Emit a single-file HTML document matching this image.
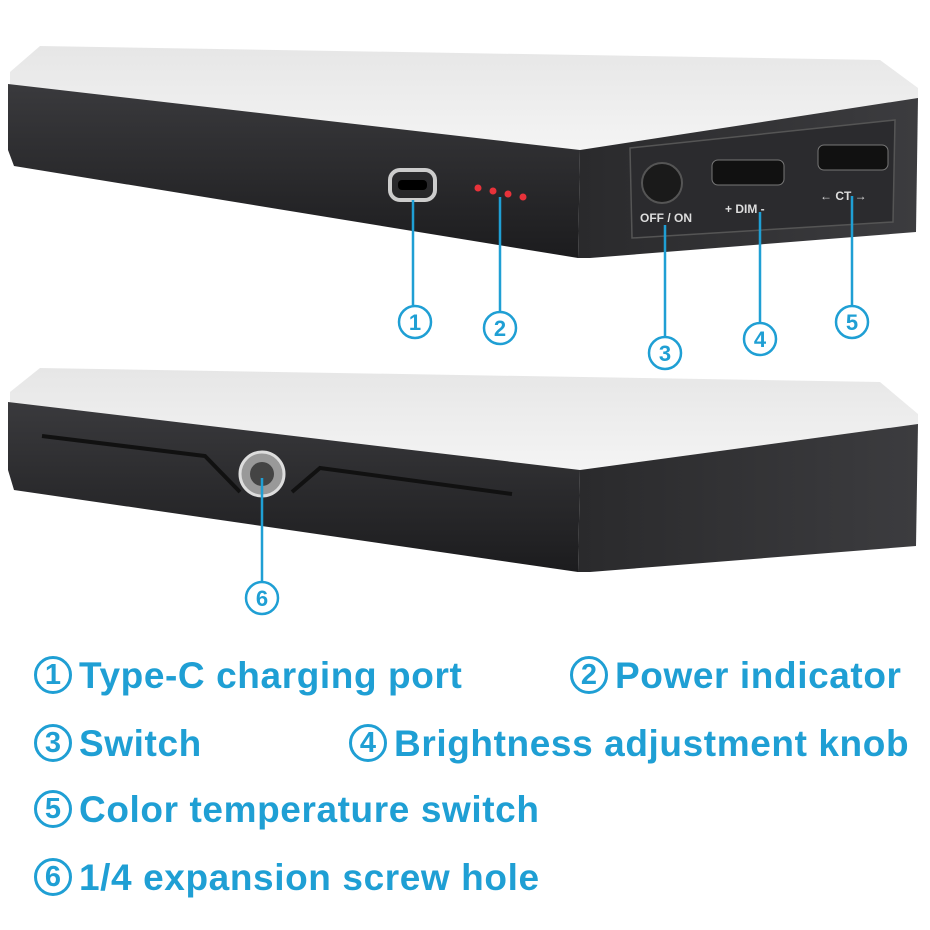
<!DOCTYPE html>
<html><head><meta charset="utf-8"><style>
html,body{margin:0;padding:0;background:#fff;}
.lbl{position:absolute;font-family:"Liberation Sans",sans-serif;font-weight:bold;font-size:37px;color:#1f9fd4;white-space:nowrap;letter-spacing:0.6px}
.c{display:inline-block;width:38px;height:38px;border:3px solid #1f9fd4;border-radius:50%;box-sizing:border-box;font-size:29px;line-height:32px;text-align:center;vertical-align:middle;margin-right:7px;position:relative;top:-3px;letter-spacing:0}
</style></head><body>
<div style="position:relative;width:930px;height:930px;overflow:hidden">
<svg width="930" height="930" style="position:absolute;left:0;top:0">
<defs>
<linearGradient id="top" x1="0" y1="0" x2="0" y2="1"><stop offset="0" stop-color="#e6e6e6"/><stop offset="1" stop-color="#f4f4f4"/></linearGradient>
<linearGradient id="front" x1="0" y1="0" x2="0" y2="1"><stop offset="0" stop-color="#3a3a3d"/><stop offset="1" stop-color="#1c1c1e"/></linearGradient>
<linearGradient id="side" x1="0" y1="0" x2="1" y2="0"><stop offset="0" stop-color="#2a2a2c"/><stop offset="1" stop-color="#3c3c3f"/></linearGradient>
</defs>
<polygon points="10,72 40,46 880,60 918,88 918,100 580,150 10,86" fill="url(#top)"/>
<polygon points="8,84 580,150 578,258 14,166 8,150" fill="url(#front)"/>
<polygon points="580,150 918,98 916,232 590,258 578,258" fill="url(#side)"/>
<polygon points="630,148 895,120 893,222 632,238" fill="#2b2b2e" stroke="#555" stroke-width="1.5"/>
<rect x="390" y="170" width="45" height="30" rx="10" fill="none" stroke="#ccc" stroke-width="4"/>
<rect x="398" y="180" width="29" height="10" rx="4" fill="#000"/>
<g fill="#e8323a"><circle cx="478" cy="188" r="3.5"/><circle cx="493" cy="191" r="3.5"/><circle cx="508" cy="194" r="3.5"/><circle cx="523" cy="197" r="3.5"/></g>
<circle cx="662" cy="183" r="20" fill="#1a1a1a" stroke="#555" stroke-width="2"/>
<rect x="712" y="160" width="72" height="25" rx="6" fill="#111" stroke="#777"/>
<rect x="818" y="145" width="70" height="25" rx="6" fill="#111" stroke="#777"/>
<g font-family="Liberation Sans" font-weight="bold" font-size="12" fill="#ddd">
<text x="640" y="222">OFF / ON</text><text x="725" y="213">+ DIM -</text><text x="820" y="200">← CT →</text></g>
<polygon points="10,392 40,368 880,382 918,414 918,424 580,470 10,404" fill="url(#top)"/>
<polygon points="8,402 580,470 578,572 14,490 8,470" fill="url(#front)"/>
<polygon points="580,470 918,424 916,546 590,572 578,572" fill="url(#side)"/>
<polyline points="42,436 205,456 240,492" fill="none" stroke="#111" stroke-width="4"/>
<polyline points="292,492 320,468 512,494" fill="none" stroke="#111" stroke-width="4"/>
<circle cx="262" cy="474" r="22" fill="#999" stroke="#ddd" stroke-width="3"/>
<circle cx="262" cy="474" r="12" fill="#444"/>
<g stroke="#1f9fd4" stroke-width="2.5" fill="none">
<line x1="413" y1="200" x2="413" y2="305"/><circle cx="415" cy="322" r="16"/>
<line x1="500" y1="197" x2="500" y2="311"/><circle cx="500" cy="328" r="16"/>
<line x1="665" y1="225" x2="665" y2="336"/><circle cx="665" cy="353" r="16"/>
<line x1="760" y1="212" x2="760" y2="322"/><circle cx="760" cy="339" r="16"/>
<line x1="852" y1="196" x2="852" y2="305"/><circle cx="852" cy="322" r="16"/>
<line x1="262" y1="478" x2="262" y2="582"/><circle cx="262" cy="598" r="16"/>
</g>
<g font-family="Liberation Sans" font-weight="bold" font-size="22" fill="#1f9fd4" text-anchor="middle">
<text x="415" y="330">1</text><text x="500" y="336">2</text><text x="665" y="361">3</text><text x="760" y="347">4</text><text x="852" y="330">5</text><text x="262" y="606">6</text></g>
</svg>
<div class="lbl" style="left:34px;top:655px"><span class="c">1</span>Type-C charging port</div>
<div class="lbl" style="left:570px;top:655px"><span class="c">2</span>Power indicator</div>
<div class="lbl" style="left:34px;top:723px"><span class="c">3</span>Switch</div>
<div class="lbl" style="left:349px;top:723px"><span class="c">4</span>Brightness adjustment knob</div>
<div class="lbl" style="left:34px;top:789px"><span class="c">5</span>Color temperature switch</div>
<div class="lbl" style="left:34px;top:857px"><span class="c">6</span>1/4 expansion screw hole</div>
</div>
</body></html>
